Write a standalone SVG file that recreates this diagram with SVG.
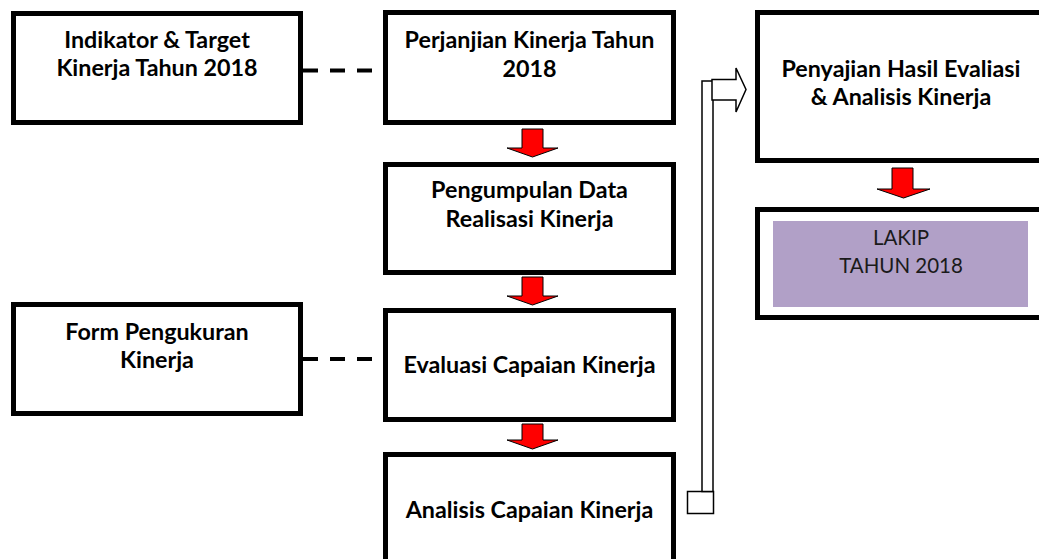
<svg xmlns="http://www.w3.org/2000/svg" width="1039" height="559" viewBox="0 0 1039 559">
<style>
.box{fill:#fff;stroke:#000;stroke-width:5}
.t{font-family:Lato,"Liberation Sans",sans-serif;font-weight:bold;font-size:23.3px;fill:#000;text-anchor:middle}
.n{font-family:Lato,"Liberation Sans",sans-serif;font-size:20.5px;fill:#1a1a1a;text-anchor:middle}
.dash{stroke:#000;stroke-width:4;stroke-dasharray:15,12;fill:none}
.red{fill:#ff0000;stroke:#000;stroke-width:1}
.hol{fill:#fff;stroke:#000;stroke-width:1.5}
</style>
<rect width="1039" height="559" fill="#fff"/>
<g id="connectors">
<line class="dash" x1="303" y1="70.5" x2="383" y2="70.5"/>
<line class="dash" x1="303" y1="359" x2="383" y2="359"/>
<path class="red" d="M522,129 H543 V148 H558 L532.5,157 L507,148 H522 Z"/>
<path class="red" d="M522,277 H543 V296 H558 L532.5,305 L507,296 H522 Z"/>
<path class="red" d="M522,424 H543 V440 H558 L532.5,449 L507,440 H522 Z"/>
<path class="red" d="M892,168 H913 V189 H930 L903.5,198 L877,189 H892 Z"/>
<g id="elbow-arrow">
<rect class="hol" x="687.5" y="491.5" width="26" height="22"/>
<rect class="hol" x="702" y="81" width="11" height="410.5"/>
<path class="hol" d="M712,79.5 H736 V68 L746,89.5 L736,112 V100 H712 Z"/>
</g>
</g>
<g id="n-indikator">
<rect class="box" x="13.5" y="13.5" width="287" height="109"/>
<text class="t" x="157" y="48">Indikator &amp; Target</text>
<text class="t" x="157" y="76">Kinerja Tahun 2018</text>
</g>
<g id="n-perjanjian">
<rect class="box" x="385.5" y="12.5" width="288" height="110"/>
<text class="t" x="529.5" y="48">Perjanjian Kinerja Tahun</text>
<text class="t" x="529.5" y="77">2018</text>
</g>
<g id="n-pengumpulan">
<rect class="box" x="385.5" y="164.5" width="288" height="108"/>
<text class="t" x="529.5" y="198">Pengumpulan Data</text>
<text class="t" x="529.5" y="227">Realisasi Kinerja</text>
</g>
<g id="n-form">
<rect class="box" x="13.5" y="304.5" width="287" height="109"/>
<text class="t" x="157" y="340">Form Pengukuran</text>
<text class="t" x="157" y="368">Kinerja</text>
</g>
<g id="n-evaluasi">
<rect class="box" x="385.5" y="310.5" width="288" height="109"/>
<text class="t" x="529.5" y="373">Evaluasi Capaian Kinerja</text>
</g>
<g id="n-analisis">
<rect class="box" x="385.5" y="454.5" width="288" height="120"/>
<text class="t" x="529.5" y="518">Analisis Capaian Kinerja</text>
</g>
<g id="n-penyajian">
<rect class="box" x="757.5" y="12.5" width="290" height="148"/>
<text class="t" x="901" y="77">Penyajian Hasil Evaliasi</text>
<text class="t" x="901" y="105">&amp; Analisis Kinerja</text>
</g>
<g id="n-lakip">
<rect class="box" x="757.5" y="209.5" width="290" height="108"/>
<rect x="773" y="221" width="255" height="86" fill="#b1a0c7"/>
<text class="n" x="901" y="245">LAKIP</text>
<text class="n" x="901" y="273">TAHUN 2018</text>
</g>
</svg>
